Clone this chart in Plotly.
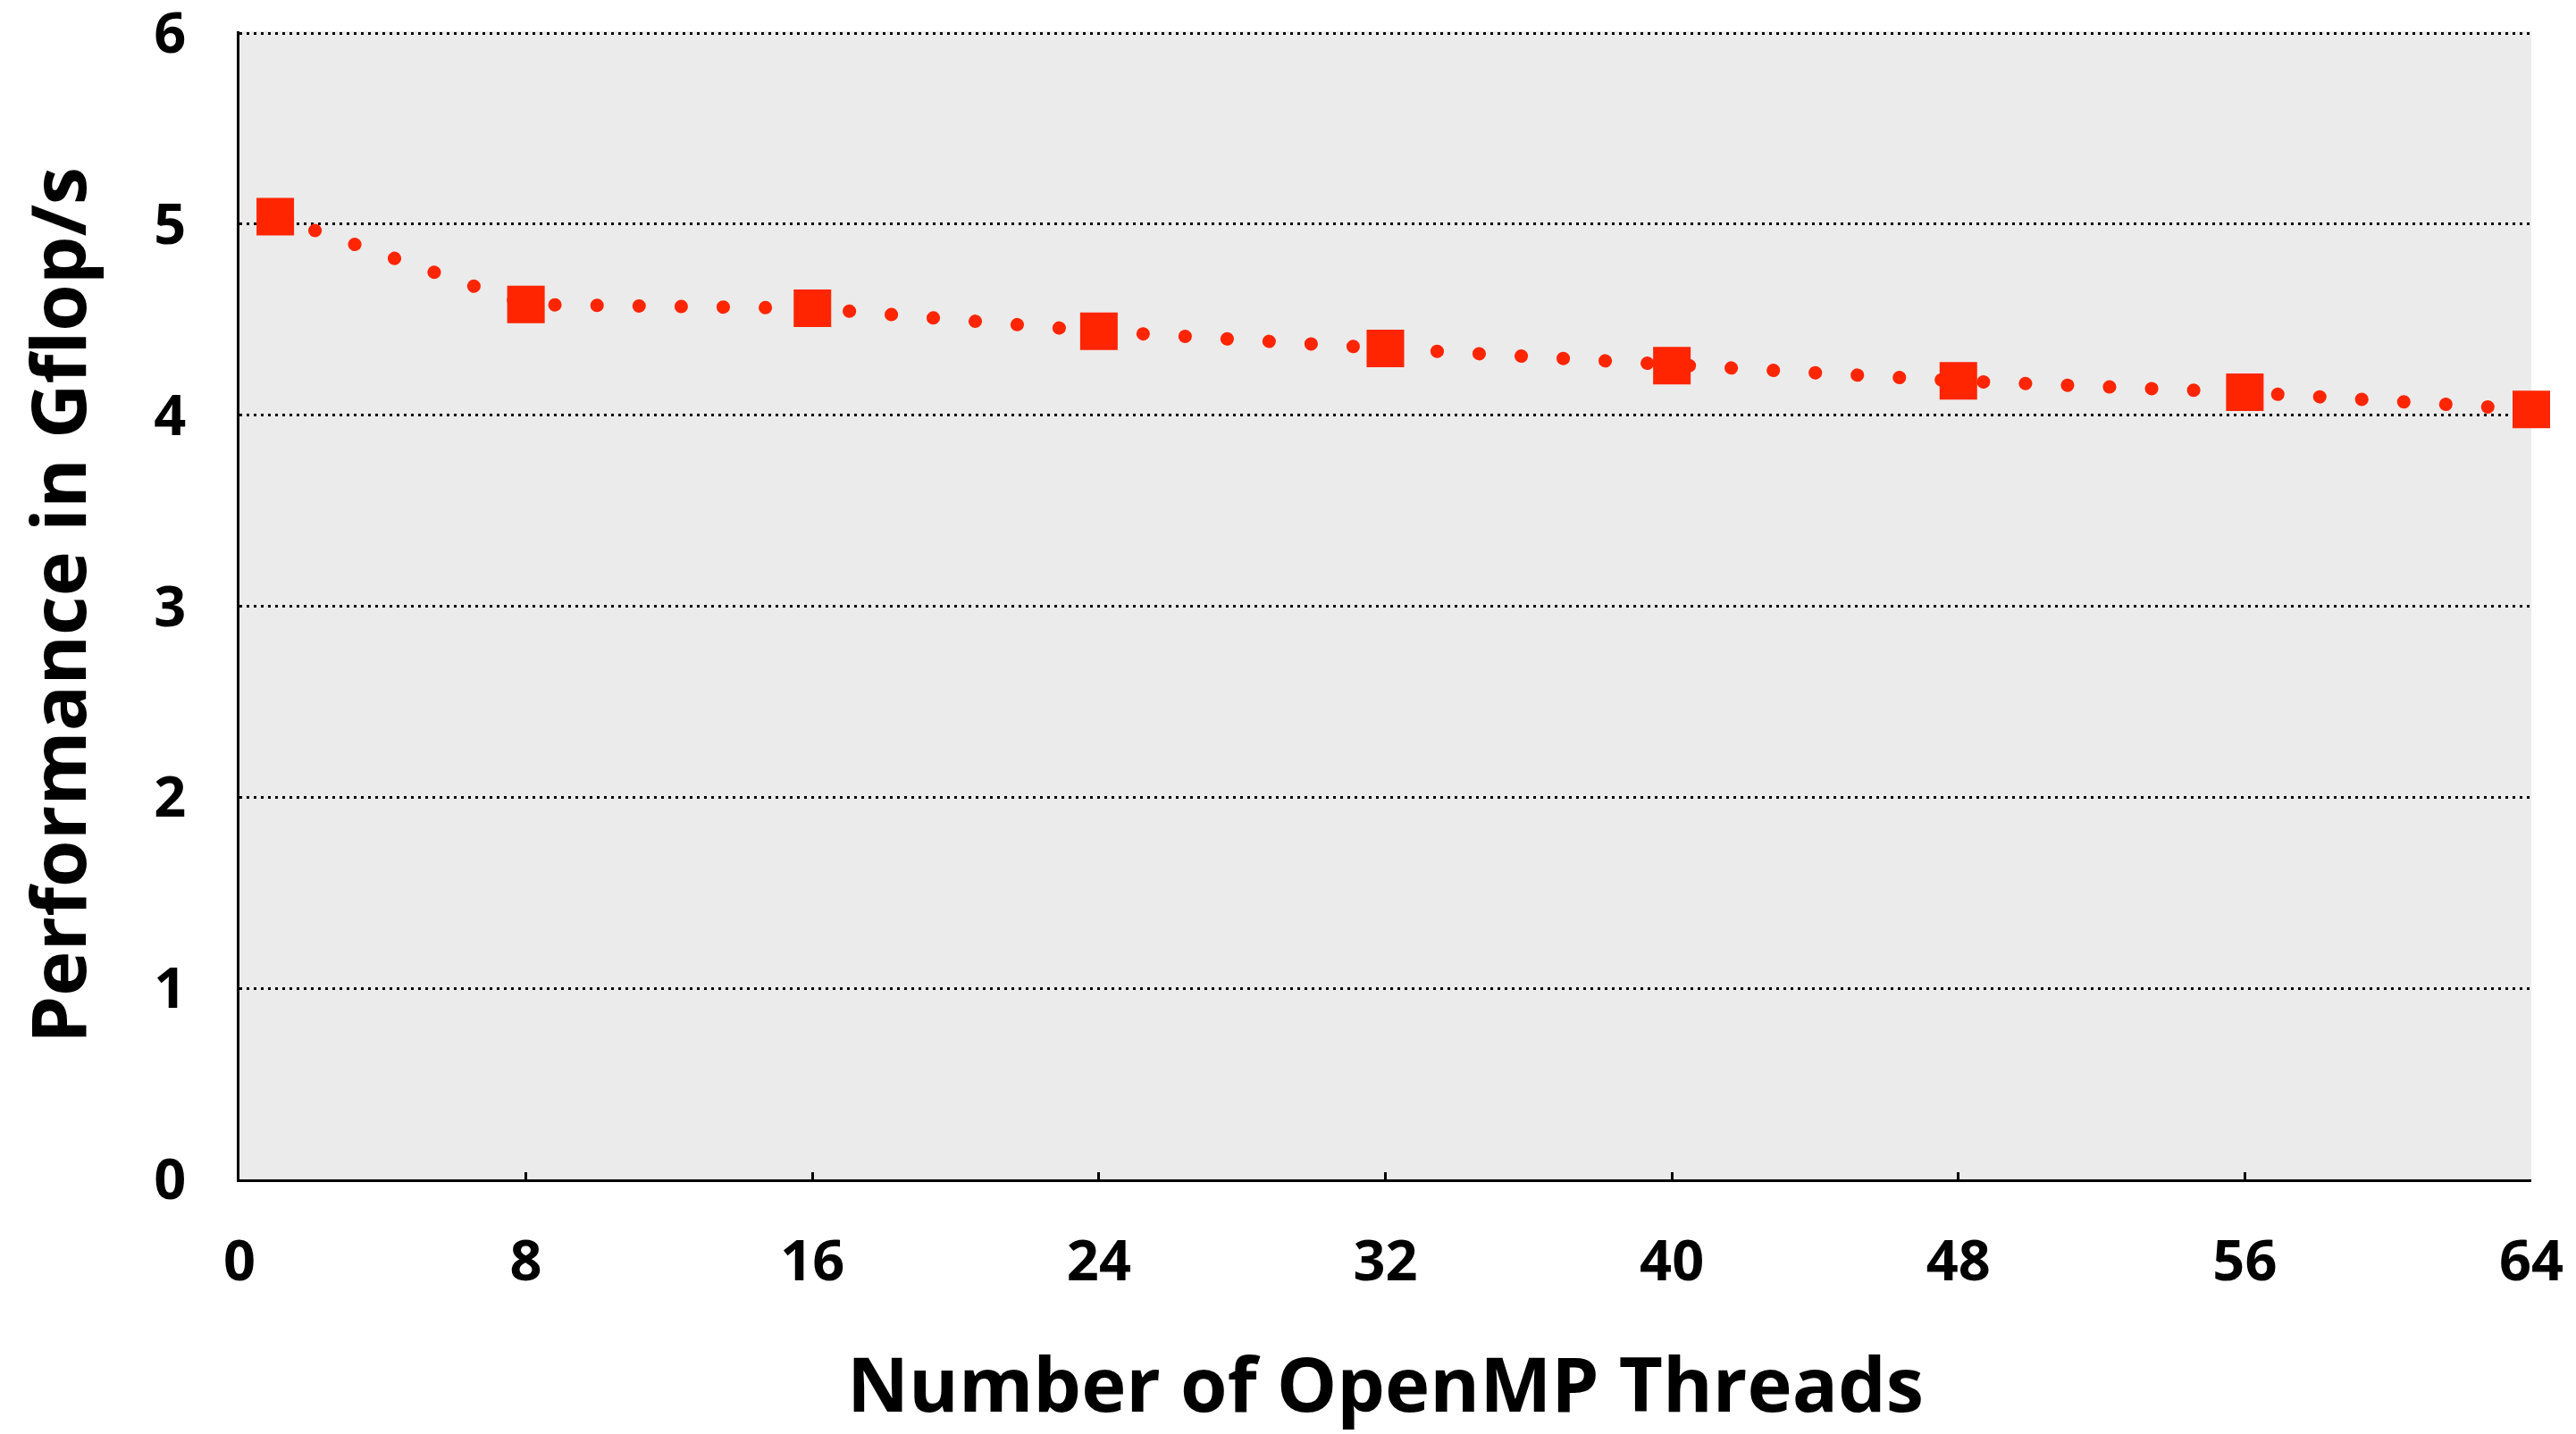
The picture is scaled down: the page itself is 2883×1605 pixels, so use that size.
import plotly.graph_objects as go

threads = [1, 8, 16, 24, 32, 40, 48, 56, 64]
gflops = [5.04, 4.58, 4.56, 4.44, 4.35, 4.26, 4.18, 4.12, 4.03]

x_ticks = [0, 8, 16, 24, 32, 40, 48, 56, 64]
y_ticks = [0, 1, 2, 3, 4, 5, 6]

RED = "#FF2500"
FONT = "Open Sans"

fig = go.Figure()
fig.add_trace(go.Scatter(
    x=threads, y=gflops, mode="lines+markers",
    line=dict(color=RED, width=15, dash="0.1px,47px"),
    marker=dict(symbol="square", size=42, color=RED, line=dict(width=0)),
    cliponaxis=False, showlegend=False,
))

fig.update_layout(
    width=2883, height=1605,
    margin=dict(l=268, r=50, t=35, b=285),
    paper_bgcolor="white", plot_bgcolor="#EBEBEB",
    font=dict(family=FONT, size=63, color="black", weight=700),
)
fig.update_xaxes(
    range=[0, 64], tickmode="array", tickvals=x_ticks,
    ticktext=[str(v) for v in x_ticks],
    showgrid=False, zeroline=False, automargin=False,
    showline=True, linecolor="black", linewidth=3,
    ticks="inside", ticklen=8, tickwidth=3, tickcolor="black",
    ticklabelstandoff=34, ticklabeloverflow="allow",
    title=dict(text="Number of OpenMP Threads",
               font=dict(family=FONT, size=85, weight=700), standoff=81),
)
fig.update_yaxes(
    range=[0, 6.01], tickmode="array", tickvals=y_ticks,
    ticktext=[str(v) for v in y_ticks],
    showgrid=True, gridcolor="black", gridwidth=2.5, griddash="3px,5px",
    zeroline=False, automargin=False,
    showline=True, linecolor="black", linewidth=3,
    ticks="", ticklabelstandoff=44, ticklabeloverflow="allow",
    title=dict(text="Performance in Gflop/s",
               font=dict(family=FONT, size=85, weight=700), standoff=48),
)

post = """
document.body.style.margin = '0';
var gd = document.getElementById('{plot_id}');
gd.querySelectorAll('.js-line').forEach(function(p){ p.style.strokeLinecap = 'round'; });
"""
fig.write_html("out.html", post_script=post, config={"displayModeBar": False})
